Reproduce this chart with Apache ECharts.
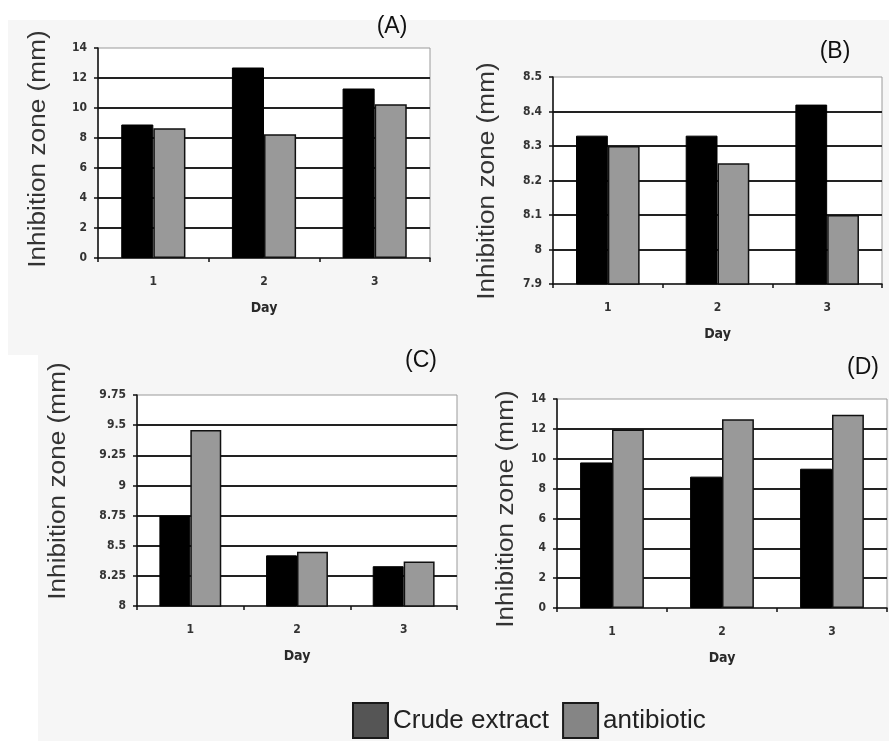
<!DOCTYPE html>
<html>
<head>
<meta charset="utf-8">
<script src="https://cdn.jsdelivr.net/npm/echarts@6/dist/echarts.min.js"></script>
<style>
  html, body { margin: 0; padding: 0; background: #fff; }
  #chart { width: 889px; height: 741px; }
</style>
</head>
<body>
<div id="chart"></div>
<script>
// ---- data ----
const days = ['1', '2', '3'];
const seriesNames = ['Crude extract', 'antibiotic'];

const crudeA = [8.9, 12.7, 11.3];
const antibioticA = [8.65, 8.25, 10.25];
const crudeB = [8.33, 8.33, 8.42];
const antibioticB = [8.30, 8.25, 8.10];
const crudeC = [8.75, 8.42, 8.33];
const antibioticC = [9.46, 8.45, 8.37];
const crudeD = [9.75, 8.8, 9.33];
const antibioticD = [11.95, 12.65, 12.95];

const yTicksA = [0, 2, 4, 6, 8, 10, 12, 14];
const yTicksB = [7.9, 8, 8.1, 8.2, 8.3, 8.4, 8.5];
const yTicksC = [8, 8.25, 8.5, 8.75, 9, 9.25, 9.5, 9.75];
const yTicksD = [0, 2, 4, 6, 8, 10, 12, 14];

const panelLabels = ['(A)', '(B)', '(C)', '(D)'];
const yName = 'Inhibition zone (mm)';
const xName = 'Day';

// ---- layout ----
const grids = [
  { left: 98, top: 48, width: 332, height: 210 },
  { left: 553, top: 77, width: 329, height: 207 },
  { left: 137, top: 395, width: 320, height: 211 },
  { left: 557, top: 399, width: 330, height: 209 }
];
const yNamePos = [[39, 149], [488, 181], [59, 481], [507, 509]];
const panelPos = [[392, 27], [835, 52], [421, 361], [863, 368]];

const panels = [
  { crude: crudeA, anti: antibioticA, ticks: yTicksA },
  { crude: crudeB, anti: antibioticB, ticks: yTicksB },
  { crude: crudeC, anti: antibioticC, ticks: yTicksC },
  { crude: crudeD, anti: antibioticD, ticks: yTicksD }
];

const tickFont = { fontFamily: "'DejaVu Sans Condensed', 'DejaVu Sans'", fontSize: 12, fontWeight: 'bold', color: '#333' };

const option = {
  animation: false,
  backgroundColor: '#ffffff',
  grid: grids.map(g => Object.assign({
    show: true,
    backgroundColor: '#ffffff',
    borderColor: '#9a9a9a',
    borderWidth: 1,
    containLabel: false
  }, g)),
  xAxis: panels.map((p, i) => ({
    type: 'category',
    gridIndex: i,
    data: days,
    boundaryGap: true,
    axisLine: { show: true, lineStyle: { color: '#111', width: 1.5 } },
    axisTick: { show: true, length: 4, lineStyle: { color: '#111', width: 1.5 } },
    axisLabel: Object.assign({ margin: 18 }, tickFont),
    name: xName,
    nameLocation: 'middle',
    nameGap: 43,
    nameTextStyle: { fontFamily: "'DejaVu Sans Condensed', 'DejaVu Sans'", fontSize: 14, fontWeight: 'bold', color: '#2a2a2a' }
  })),
  yAxis: panels.map((p, i) => ({
    type: 'value',
    gridIndex: i,
    min: p.ticks[0],
    max: p.ticks[p.ticks.length - 1],
    interval: +(p.ticks[1] - p.ticks[0]).toFixed(4),
    axisLine: { show: true, lineStyle: { color: '#111', width: 1.5 } },
    axisTick: { show: true, length: 4, lineStyle: { color: '#111', width: 1.5 } },
    axisLabel: Object.assign({
      margin: 11,
      formatter: v => String(+(+v).toFixed(2))
    }, tickFont),
    splitLine: { show: true, showMaxLine: false, showMinLine: false, lineStyle: { color: '#222', width: 2 } }
  })),
  legend: {
    left: 347,
    top: 697,
    itemWidth: 35,
    itemHeight: 35,
    itemGap: 13,
    icon: 'rect',
    selectedMode: false,
    textStyle: { fontFamily: 'Liberation Sans', fontSize: 26, color: '#222' },
    data: [
      { name: seriesNames[0], icon: 'rect', itemStyle: { color: '#555555', borderColor: '#1a1a1a', borderWidth: 2 } },
      { name: seriesNames[1], icon: 'rect', itemStyle: { color: '#858585', borderColor: '#1a1a1a', borderWidth: 2 } }
    ]
  },
  series: [],
  graphic: []
};

panels.forEach((p, i) => {
  option.series.push({
    name: seriesNames[0],
    type: 'bar',
    xAxisIndex: i,
    yAxisIndex: i,
    data: p.crude,
    barGap: '0%',
    barCategoryGap: '42%',
    itemStyle: { color: '#000000', borderColor: '#000000', borderWidth: 1 }
  });
  option.series.push({
    name: seriesNames[1],
    type: 'bar',
    xAxisIndex: i,
    yAxisIndex: i,
    data: p.anti,
    barGap: '0%',
    barCategoryGap: '42%',
    itemStyle: { color: '#999999', borderColor: '#111111', borderWidth: 1.5 }
  });
});

// backgrounds
option.graphic.push(
  { type: 'rect', z: -100, silent: true, shape: { x: 8, y: 20, width: 881, height: 335 }, style: { fill: '#f6f6f6' } },
  { type: 'rect', z: -100, silent: true, shape: { x: 38, y: 355, width: 851, height: 386 }, style: { fill: '#f6f6f6' } }
);

// y-axis names and panel labels
yNamePos.forEach(([x, y]) => {
  option.graphic.push({
    type: 'text', x: x, y: y, rotation: Math.PI / 2, scaleX: 1.14, silent: true,
    style: { text: yName, fontFamily: 'Liberation Sans', fontSize: 23, fill: '#333', align: 'center', verticalAlign: 'middle' }
  });
});
panelPos.forEach(([x, y], i) => {
  option.graphic.push({
    type: 'text', x: x, y: y, silent: true,
    style: { text: panelLabels[i], fontFamily: 'Liberation Sans', fontSize: 23, fill: '#111', align: 'center', verticalAlign: 'middle' }
  });
});

const chart = echarts.init(document.getElementById('chart'), null, { renderer: 'canvas' });
chart.setOption(option);
</script>
</body>
</html>
